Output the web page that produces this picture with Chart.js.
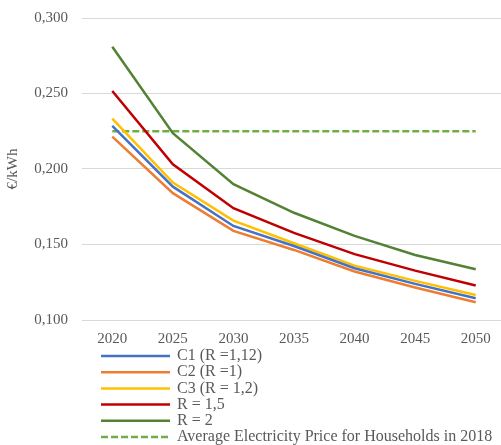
<!DOCTYPE html>
<html>
<head>
<meta charset="utf-8">
<script src="https://cdn.jsdelivr.net/npm/chart.js@4"></script>
<style>
    html, body { margin: 0; padding: 0; overflow: hidden; background: #fff; }
    #wrap { width: 506px; height: 445px; position: relative; }
</style>
</head>
<body>
<div id="wrap"><canvas id="grafico"></canvas></div>
<script>
const years = ['2020', '2025', '2030', '2035', '2040', '2045', '2050'];
const c1 = [0.2285, 0.1883, 0.1623, 0.1490, 0.1343, 0.1239, 0.1144];
const c2 = [0.2214, 0.1840, 0.1590, 0.1464, 0.1321, 0.1215, 0.1118];
const c3 = [0.2333, 0.1910, 0.1658, 0.1508, 0.1360, 0.1259, 0.1166];
const r15 = [0.2517, 0.2031, 0.1740, 0.1577, 0.1436, 0.1327, 0.1228];
const r2 = [0.2810, 0.2237, 0.1900, 0.1710, 0.1557, 0.1431, 0.1336];
const avg2018 = [0.225, 0.225, 0.225, 0.225, 0.225, 0.225, 0.225];

const GRIS = '#595959';
const FUENTE = '"Liberation Serif", "Times New Roman", serif';

const serie = (label, data, color, extra = {}) => ({
    label, data,
    borderColor: color,
    backgroundColor: color,
    borderWidth: 2.5,
    pointRadius: 0,
    tension: 0,
    ...extra
});

// leyenda vertical dibujada a mano debajo del eje x
const leyendaVertical = {
    id: 'leyendaVertical',
    afterDraw(chart) {
        const { ctx } = chart;
        ctx.save();
        ctx.font = `16px ${FUENTE}`;
        ctx.textBaseline = 'middle';
        chart.data.datasets.forEach((ds, i) => {
            const y = 356 + i * 16.2;
            ctx.strokeStyle = ds.borderColor;
            ctx.lineWidth = ds.borderWidth;
            ctx.setLineDash(ds.borderDash ?? []);
            ctx.beginPath();
            ctx.moveTo(101, y);
            ctx.lineTo(170, y);
            ctx.stroke();
            ctx.setLineDash([]);
            ctx.fillStyle = GRIS;
            ctx.fillText(ds.label, 177, y);
        });
        ctx.restore();
    }
};

new Chart(document.getElementById('grafico'), {
    type: 'line',
    data: {
        labels: years,
        datasets: [
            serie('C1 (R =1,12)', c1, '#4472C4'),
            serie('C2 (R =1)', c2, '#ED7D31'),
            serie('C3 (R = 1,2)', c3, '#FFC000'),
            serie('R = 1,5', r15, '#C00000'),
            serie('R = 2', r2, '#548235'),
            serie('Average Electricity Price for Households in 2018', avg2018, '#70AD47', { borderDash: [7, 3] })
        ]
    },
    options: {
        responsive: true,
        maintainAspectRatio: false,
        animation: false,
        layout: { padding: { top: 18, left: 0, right: 0, bottom: 95 } },
        plugins: {
            legend: { display: false },
            tooltip: { enabled: false }
        },
        scales: {
            x: {
                offset: true,
                grid: { display: false, drawTicks: false },
                border: { display: false },
                ticks: { color: GRIS, padding: 10, font: { family: FUENTE, size: 15 } },
                afterFit: (s) => { s.height = 30; s.paddingLeft = 0; s.paddingRight = 0; }
            },
            y: {
                min: 0.1,
                max: 0.3,
                grid: { color: '#d9d9d9', lineWidth: 1, drawTicks: false },
                border: { display: false },
                ticks: {
                    stepSize: 0.05,
                    color: GRIS,
                    padding: 14,
                    font: { family: FUENTE, size: 15 },
                    callback: (v) => v.toFixed(3).replace('.', ',')
                },
                title: {
                    display: true,
                    text: '€/kWh',
                    color: GRIS,
                    font: { family: FUENTE, size: 15 },
                    padding: { top: 4, bottom: 0 }
                },
                afterFit: (s) => { s.width = 82; s.paddingTop = 0; s.paddingBottom = 0; }
            }
        }
    },
    plugins: [leyendaVertical]
});
</script>
</body>
</html>
